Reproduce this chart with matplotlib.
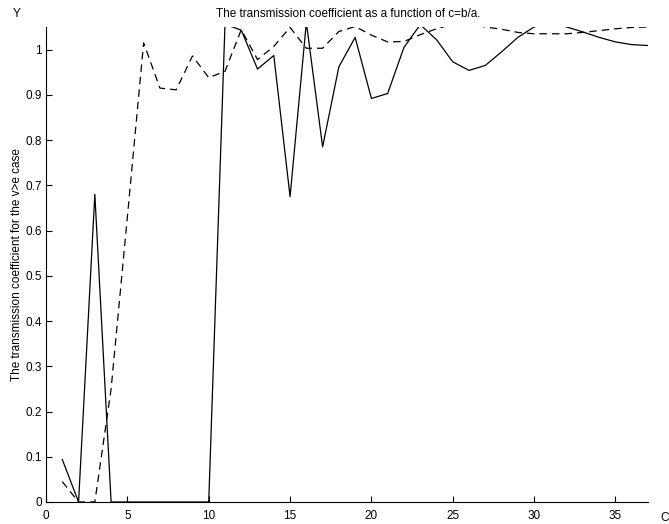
import matplotlib
matplotlib.use("Agg")
import matplotlib.pyplot as plt
import numpy as np

plt.rcParams['font.family'] = ['Liberation Sans', 'DejaVu Sans']

# c = b/a
c_values = list(range(1, 38))

# solid curve
trans_solid = [0.094, 0.0, 0.68, 0.0, 0.0, 0.0, 0.0, 0.0, 0.0, 0.0,
               1.056, 1.043, 0.957, 0.987, 0.675, 1.06, 0.785, 0.962, 1.027, 0.892,
               0.903, 1.005, 1.055, 1.022, 0.973, 0.954, 0.965, 0.995, 1.027, 1.05,
               1.06, 1.05, 1.039, 1.027, 1.017, 1.011, 1.009]

# dashed curve
trans_dashed = [0.045, 0.0, 0.0, 0.25, 0.63, 1.015, 0.915, 0.911, 0.986, 0.938,
                0.952, 1.044, 0.978, 1.007, 1.049, 1.003, 1.003, 1.04, 1.051, 1.032,
                1.017, 1.018, 1.033, 1.046, 1.056, 1.056, 1.05, 1.045, 1.038, 1.035,
                1.035, 1.035, 1.038, 1.042, 1.046, 1.049, 1.05]

title = "The transmission coefficient as a function of c=b/a."
ylabel = "The transmission coefficient for the v>e case"

fig = plt.figure(figsize=(6.69, 5.24), dpi=100)
ax = fig.add_axes([0.0688, 0.042, 0.8998, 0.9065])

ax.plot(c_values, trans_solid, color='black', linewidth=0.9)
ax.plot(c_values, trans_dashed, color='black', linewidth=0.9, linestyle=(0, (6, 4)))

ax.set_xlim(0, 37)
ax.set_ylim(0, 1.05)
ax.set_xticks(np.arange(0, 36, 5))
ax.set_yticks(np.arange(0, 1.01, 0.1))
ax.set_yticklabels(["0", "0.1", "0.2", "0.3", "0.4", "0.5", "0.6", "0.7", "0.8", "0.9", "1"])

for s in ['top', 'right']:
    ax.spines[s].set_visible(False)
for s in ['left', 'bottom']:
    ax.spines[s].set_linewidth(0.8)
ax.tick_params(direction='in', length=4, width=0.8, labelsize=8.5)
ax.tick_params(axis='x', pad=6)
ax.tick_params(axis='y', pad=3)

ax.set_ylabel(ylabel, fontsize=8.5, labelpad=2)
fig.text(0.52, 0.985, title, ha='center', va='top', fontsize=8.5)
fig.text(0.025, 0.985, "Y", ha='center', va='top', fontsize=8.5)
fig.text(0.993, 0.0, "C", ha='center', va='bottom', fontsize=8.5)

fig.savefig("out.png", dpi=100)
